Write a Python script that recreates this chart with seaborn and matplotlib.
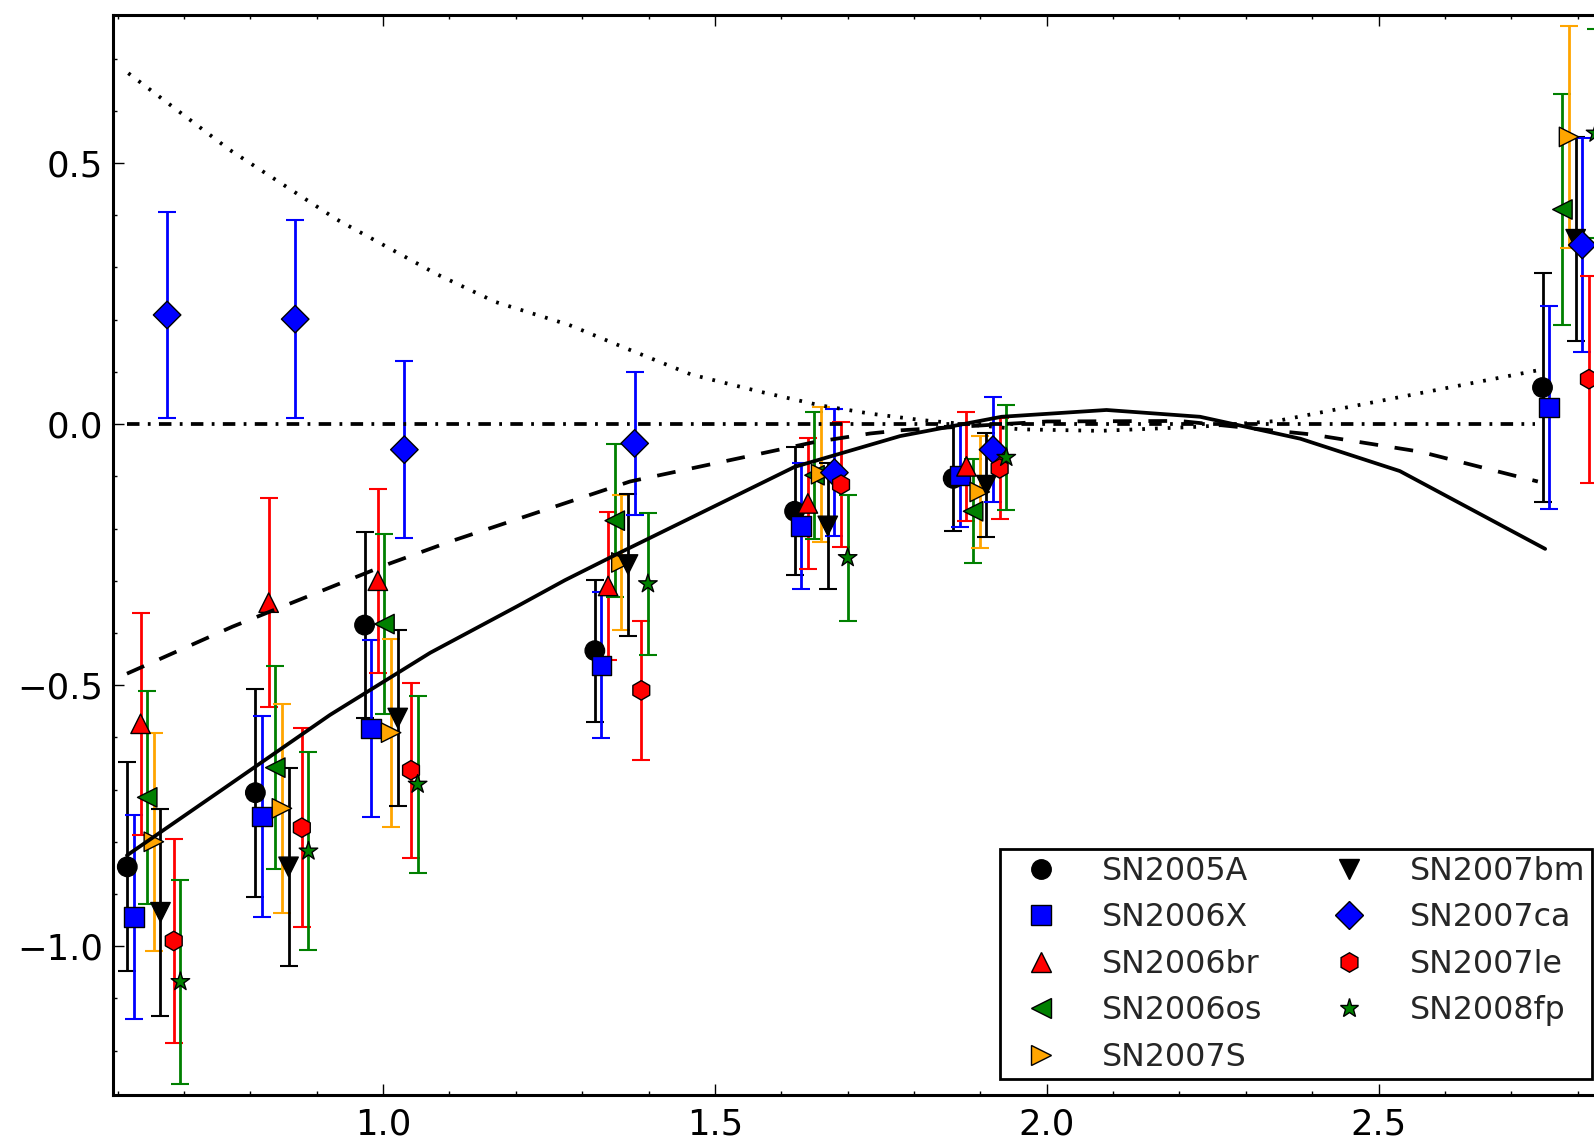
import numpy as np
import pandas as pd
import matplotlib
matplotlib.use("Agg")
import matplotlib.pyplot as plt
from matplotlib.lines import Line2D
from matplotlib.ticker import MultipleLocator
import seaborn as sns

# ---------------------------------------------------------------- data
sn_names = ["SN2005A", "SN2006X", "SN2006br", "SN2006os", "SN2007S",
            "SN2007bm", "SN2007ca", "SN2007le", "SN2008fp"]

# band positions (one value per band, before the per-object dodge)
band_x = [0.6145, 0.8075, 0.972, 1.319, 1.62, 1.859, 2.747]

nan = np.nan
y_2005A = [-0.848, -0.706, -0.385, -0.434, -0.167, -0.104, 0.070]
e_2005A = [0.200, 0.199, 0.178, 0.136, 0.123, 0.101, 0.220]
y_2006X = [-0.944, -0.752, -0.583, -0.462, -0.195, -0.099, 0.032]
e_2006X = [0.196, 0.192, 0.169, 0.140, 0.121, 0.098, 0.194]
y_2006br = [-0.574, -0.342, -0.300, -0.310, -0.152, -0.081, nan]
e_2006br = [0.213, 0.200, 0.176, 0.142, 0.125, 0.105, nan]
y_2006os = [-0.715, -0.658, -0.383, -0.185, -0.098, -0.167, 0.411]
e_2006os = [0.204, 0.195, 0.172, 0.146, 0.122, 0.100, 0.222]
y_2007S = [-0.800, -0.736, -0.591, -0.265, -0.096, -0.130, 0.550]
e_2007S = [0.209, 0.200, 0.180, 0.130, 0.129, 0.107, 0.213]
y_2007bm = [-0.935, -0.848, -0.563, -0.269, -0.195, -0.117, 0.354]
e_2007bm = [0.198, 0.190, 0.168, 0.136, 0.121, 0.099, 0.195]
y_2007ca = [0.209, 0.201, -0.049, -0.037, -0.093, -0.049, 0.343]
e_2007ca = [0.197, 0.190, 0.170, 0.137, 0.121, 0.100, 0.204]
y_2007le = [-0.990, -0.773, -0.663, -0.510, -0.116, -0.085, 0.086]
e_2007le = [0.195, 0.190, 0.168, 0.133, 0.120, 0.097, 0.198]
y_2008fp = [-1.068, -0.818, -0.690, -0.306, -0.256, -0.064, 0.557]
e_2008fp = [0.195, 0.190, 0.169, 0.136, 0.121, 0.100, 0.200]

y_vals = [y_2005A, y_2006X, y_2006br, y_2006os, y_2007S,
          y_2007bm, y_2007ca, y_2007le, y_2008fp]
y_errs = [e_2005A, e_2006X, e_2006br, e_2006os, e_2007S,
          e_2007bm, e_2007ca, e_2007le, e_2008fp]

# model curves
solid_x = [0.614, 0.769, 0.920, 1.071, 1.202, 1.274, 1.354, 1.447,
           1.620, 1.779, 1.932, 2.090, 2.231, 2.382, 2.532, 2.751]
solid_y = [-0.826, -0.690, -0.557, -0.438, -0.349, -0.299, -0.248, -0.190,
           -0.082, -0.023, 0.014, 0.027, 0.014, -0.028, -0.090, -0.239]

dashed_x = [0.614, 0.773, 1.010, 1.101, 1.372, 1.593, 1.648, 1.734,
            1.779, 2.000, 2.200, 2.400, 2.563, 2.699, 2.740]
dashed_y = [-0.478, -0.388, -0.267, -0.225, -0.110, -0.050, -0.035, -0.018,
            -0.012, 0.005, 0.006, -0.020, -0.053, -0.097, -0.110]

dotted_x = [0.616, 0.769, 0.930, 1.081, 1.169, 1.280, 1.372, 1.464,
            1.568, 1.658, 1.734, 1.809, 1.960, 2.080, 2.231, 2.347, 2.740]
dotted_y = [0.672, 0.525, 0.392, 0.287, 0.234, 0.190, 0.142, 0.095,
            0.062, 0.036, 0.020, 0.008, -0.010, -0.013, -0.005, 0.006,
            0.103]

zero_x = [0.614, 2.736]
zero_y = [0.0, 0.0]

# ---------------------------------------------------------------- style
colors = ["black", "blue", "red", "green", "orange",
          "black", "blue", "red", "green"]
markers = ["o", "s", "^", "<", ">", "v", "D", "h", "*"]
dodge = 0.01

sns.set_style("ticks")
plt.rcParams["font.family"] = ["DejaVu Sans"]
plt.rcParams["lines.scale_dashes"] = False

rows = []
for i, name in enumerate(sn_names):
    for bx, yv, ev in zip(band_x, y_vals[i], y_errs[i]):
        if np.isfinite(yv):
            rows.append({"sn": name, "x": bx + dodge * i, "y": yv, "err": ev})
df = pd.DataFrame(rows)

W, H = 1594, 1139
fig = plt.figure(figsize=(W / 100, H / 100), dpi=100)
ax_left, ax_right, ax_top, ax_bottom = 112.7, 1608.2, 15.0, 1095.0
ax = fig.add_axes([ax_left / W, (H - ax_bottom) / H,
                   (ax_right - ax_left) / W, (ax_bottom - ax_top) / H])

# error bars
for i, name in enumerate(sn_names):
    sub = df[df["sn"] == name]
    ax.errorbar(sub["x"], sub["y"], yerr=sub["err"], fmt="none",
                ecolor=colors[i], elinewidth=2.0, capsize=6.6,
                capthick=1.5, zorder=2)

# markers
sns.scatterplot(data=df, x="x", y="y", hue="sn", style="sn",
                hue_order=sn_names, style_order=sn_names,
                palette=dict(zip(sn_names, colors)),
                markers=dict(zip(sn_names, markers)),
                s=196, edgecolor="black", linewidth=1.0,
                legend=False, zorder=3, ax=ax)

# model curves
lw = 2.7
sns.lineplot(x=solid_x, y=solid_y, sort=False, color="black",
             linewidth=lw, zorder=4, ax=ax)
sns.lineplot(x=dashed_x, y=dashed_y, sort=False, color="black",
             linewidth=lw, linestyle=(0, (13.5, 12.0)), zorder=4, ax=ax)
sns.lineplot(x=dotted_x, y=dotted_y, sort=False, color="black",
             linewidth=lw, linestyle=(0, (2.0, 7.2)), zorder=4, ax=ax)
sns.lineplot(x=zero_x, y=zero_y, sort=False, color="black",
             linewidth=lw, linestyle=(0, (9.0, 6.0, 2.0, 6.0)), zorder=4, ax=ax)

ax.set_xlim(0.5925, 2.846)
ax.set_ylim(-1.285, 0.7835)
ax.set_xlabel("")
ax.set_ylabel("")

ax.xaxis.set_major_locator(MultipleLocator(0.5))
ax.xaxis.set_minor_locator(MultipleLocator(0.1))
ax.yaxis.set_major_locator(MultipleLocator(0.5))
ax.yaxis.set_minor_locator(MultipleLocator(0.1))
ax.tick_params(which="both", direction="in", top=True, right=True,
               colors="black", width=1.0)
ax.tick_params(which="major", length=8.0, labelsize=25.5)
ax.tick_params(which="minor", length=3.2)
ax.tick_params(axis="x", which="major", pad=8.7)
ax.tick_params(axis="y", which="major", pad=6.8)
for sp in ax.spines.values():
    sp.set_linewidth(2.2)
    sp.set_color("black")

handles = [Line2D([], [], linestyle="none", marker=m, markersize=14,
                  markerfacecolor=c, markeredgecolor="black",
                  markeredgewidth=1.0)
           for m, c in zip(markers, colors)]
leg = ax.legend(handles, sn_names, ncol=2, fontsize=22.8,
                loc="lower right",
                bbox_to_anchor=(1592 / W, (H - 1079) / H),
                bbox_transform=fig.transFigure, borderaxespad=0,
                frameon=True, fancybox=False, framealpha=1,
                edgecolor="black", borderpad=0.2, labelspacing=0.49,
                handlelength=2.2, handletextpad=0.82, columnspacing=1.65)
leg.get_frame().set_linewidth(2.0)
leg.set_zorder(10)

fig.savefig("out.png", dpi=100)
